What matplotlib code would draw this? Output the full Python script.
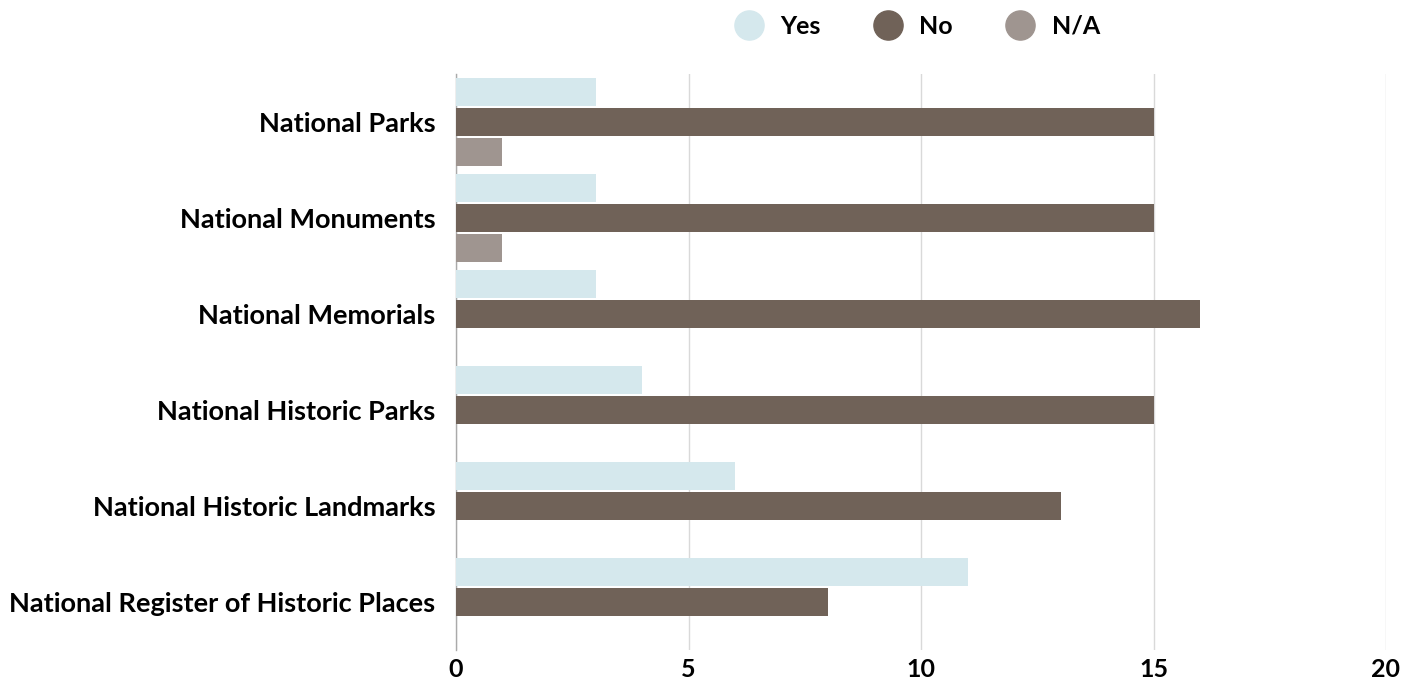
import numpy as np
import matplotlib.pyplot as plt
from matplotlib.lines import Line2D

plt.rcParams['font.family'] = ['Lato', 'DejaVu Sans']
plt.rcParams['font.weight'] = 'bold'

categories = ['National Parks', 'National Monuments', 'National Memorials',
              'National Historic Parks', 'National Historic Landmarks',
              'National Register of Historic Places']
yes = [3, 3, 3, 4, 6, 11]
no = [15, 15, 16, 15, 13, 8]
na = [1, 1, 0, 0, 0, 0]

series = [('Yes', yes, '#d5e8ed'), ('No', no, '#706258'), ('N/A', na, '#9f9590')]

fig = plt.figure(figsize=(14.19, 6.85), dpi=100)
ax = fig.add_axes([456/1419, 1 - 650/685, 930/1419, 576/685])

y = np.arange(len(categories))
offsets = [-0.3125, 0, 0.3125]
for (name, vals, color), off in zip(series, offsets):
    ax.barh(y + off, vals, height=0.29, color=color, zorder=3)

ax.set_xlim(0, 20)
ax.set_ylim(len(categories) - 0.5, -0.5)
ax.set_xticks([0, 5, 10, 15, 20])
ax.set_yticks(y)
ax.set_yticklabels(categories, fontsize=19.5, fontweight='bold')
ax.tick_params(axis='x', labelsize=18, length=0, pad=6)
ax.tick_params(axis='y', length=0, pad=15)
ax.grid(axis='x', color='#d9d9d9', linewidth=1, zorder=0)
for s in ['top', 'right', 'bottom']:
    ax.spines[s].set_visible(False)
ax.spines['left'].set_color('#aaaaaa')
ax.spines['left'].set_linewidth(1)

handles = [Line2D([], [], marker='o', linestyle='', markersize=21,
                  markerfacecolor=c, markeredgecolor=c) for _, _, c in series]
fig.legend(handles, [s[0] for s in series], loc='center',
           bbox_to_anchor=(912/1419, 1 - 26/685), ncol=3, frameon=False,
           prop={'size': 18, 'weight': 'bold'}, handletextpad=0.25,
           columnspacing=1.7)

fig.savefig('out.png', dpi=100)
